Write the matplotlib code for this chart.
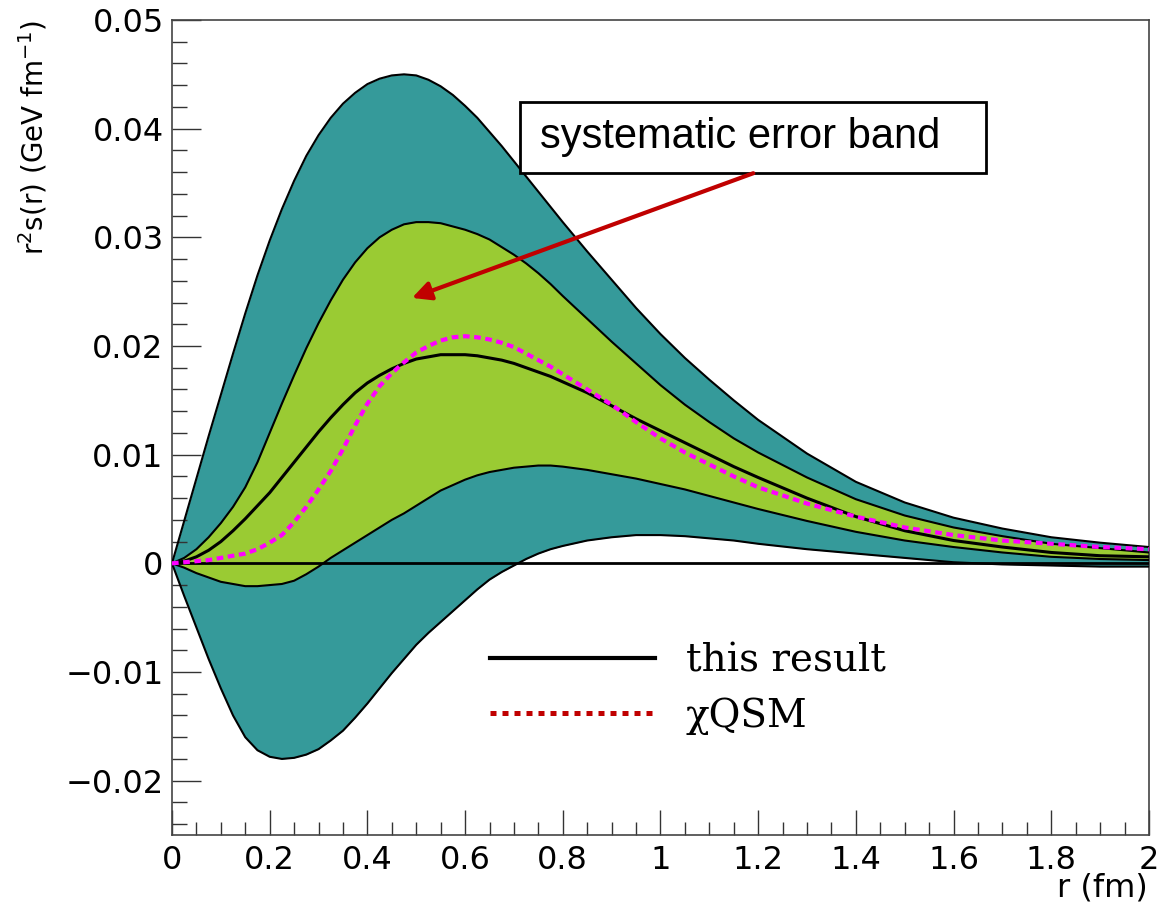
import matplotlib
matplotlib.use('Agg')
import matplotlib.pyplot as plt
from matplotlib.patches import Rectangle
from matplotlib.lines import Line2D
from matplotlib.ticker import FuncFormatter, MultipleLocator
import numpy as np

# r grid (fm) and curves, r^2 s(r) in GeV fm^-1
r = [0, .025, .05, .075, .1, .125, .15, .175, .2, .225, .25, .275, .3, .325, .35, .375, .4,
     .425, .45, .475, .5, .525, .55, .575, .6, .625, .65, .675, .7, .725, .75, .775, .8,
     .85, .9, .95, 1.0, 1.05, 1.1, 1.15, 1.2, 1.3, 1.4, 1.5, 1.6, 1.7, 1.8, 1.9, 2.0]
outer_hi = [0, .0039, .0078, .0117, .0155, .0193, .0230, .0265, .0297, .0326, .0352, .0375,
            .0394, .0410, .0423, .0433, .0441, .0446, .0449, .0450, .0449, .0445, .0439, .0431,
            .0421, .0410, .0397, .0384, .0370, .0356, .0342, .0328, .0314,
            .0287, .0261, .0235, .0211, .0189, .0169, .0150, .0132, .0101, .0075, .0056, .0042,
            .0032, .0024, .0019, .0015]
outer_lo = [0, -.0030, -.0059, -.0088, -.0115, -.0140, -.0160, -.0172, -.0178, -.0180, -.0179,
            -.0176, -.0171, -.0163, -.0154, -.0142, -.0129, -.0115, -.0101, -.0088, -.0075,
            -.0064, -.0054, -.0044, -.0034, -.0024, -.0015, -.0008, -.0002, .0004, .0009,
            .0013, .0016,
            .0021, .0024, .0026, .0026, .0025, .0023, .0021, .0018, .0013, .0009, .0005, .0001,
            -.0001, -.0002, -.0003, -.0003]
inner_hi = [0, .0005, .0013, .0024, .0037, .0052, .0070, .0093, .0120, .0147, .0173, .0198,
            .0221, .0242, .0261, .0277, .0290, .0300, .0307, .0312, .0314, .0314, .0313, .0310,
            .0307, .0303, .0298, .0291, .0284, .0276, .0267, .0257, .0246,
            .0225, .0204, .0184, .0164, .0146, .0130, .0115, .0102, .0079, .0059, .0044, .0033,
            .0025, .0018, .0014, .0010]
inner_lo = [0, -.0004, -.0009, -.0013, -.0017, -.0019, -.0021, -.0021, -.0020, -.0019, -.0016,
            -.0010, -.0003, .0005, .0012, .0019, .0026, .0033, .0040, .0046, .0053, .0060,
            .0067, .0072, .0077, .0081, .0084, .0086, .0088, .0089, .0090, .0090, .0089,
            .0086, .0082, .0078, .0073, .0068, .0062, .0056, .0050, .0039, .0029, .0021, .0015,
            .0010, .0006, .0004, .0003]
this_result = [0, .0002, .0006, .0012, .0020, .0030, .0041, .0053, .0065, .0079, .0093, .0107,
               .0121, .0134, .0146, .0157, .0166, .0173, .0179, .0184, .0188, .0190, .0192,
               .0192, .0192, .0191, .0189, .0187, .0184, .0180, .0176, .0172, .0167,
               .0157, .0145, .0133, .0122, .0111, .0100, .0089, .0079, .0060, .0043, .0030,
               .0021, .0015, .0010, .0007, .0006]
chiqsm = [0, .0001, .0002, .0003, .0005, .0007, .0009, .0013, .0019, .0026, .0038, .0052, .0068,
          .0085, .0105, .0127, .0147, .0163, .0175, .0185, .0194, .0200, .0205, .0208, .0209,
          .0208, .0206, .0203, .0199, .0193, .0187, .0181, .0174,
          .0160, .0146, .0130, .0115, .0102, .0091, .0080, .0070, .0055, .0043, .0033, .0026,
          .0021, .0018, .0015, .0013]

teal = '#359a9a'
green = '#9acb33'
dark_red = '#c00000'

fig = plt.figure(figsize=(11.62, 9.09), dpi=100)
ax = fig.add_axes([0.148, 0.0814, 0.8408, 0.8966])

ax.fill_between(r, outer_lo, outer_hi, color=teal, lw=0, zorder=1)
ax.fill_between(r, inner_lo, inner_hi, color=green, lw=0, zorder=2)
for curve in [outer_hi, outer_lo, inner_hi, inner_lo]:
    ax.plot(r, curve, color='k', lw=1.5, zorder=3, solid_joinstyle='round')
ax.axhline(0, color='k', lw=2, zorder=4)
ax.plot(r, this_result, color='k', lw=2.2, zorder=5, solid_joinstyle='round')
ax.plot(r, chiqsm, color='#ff00ff', lw=3, ls=(0, (1.6, 1.1)), zorder=6)

ax.set_xlim(0, 2)
ax.set_ylim(-0.025, 0.05)
ax.xaxis.set_major_locator(MultipleLocator(0.2))
ax.xaxis.set_minor_locator(MultipleLocator(0.05))
ax.yaxis.set_major_locator(MultipleLocator(0.01))
ax.yaxis.set_minor_locator(MultipleLocator(0.002))


def fmt(v, pos):
    if abs(v) < 1e-9:
        return '0'
    return ('%g' % v).replace('-', '\u2212')


ax.xaxis.set_major_formatter(FuncFormatter(fmt))
ax.yaxis.set_major_formatter(FuncFormatter(fmt))
ax.tick_params(which='both', direction='in', top=False, right=False, color='#333333',
               labelsize=23)
ax.tick_params(axis='y', which='major', length=21, width=1, pad=6)
ax.tick_params(axis='y', which='minor', length=11, width=1)
ax.tick_params(axis='x', which='major', length=18, width=1, pad=7)
ax.tick_params(axis='x', which='minor', length=9.5, width=1)
for s in ax.spines.values():
    s.set_color('#444444')
    s.set_linewidth(1.2)

fig.text(1148 / 1162, 1 - 888 / 909, 'r (fm)', ha='right', va='center', fontsize=23)
fig.text(33 / 1162, 1 - 20 / 909, r'r$^{2}$s(r) (GeV fm$^{-1}$)', rotation=90,
         ha='center', va='top', fontsize=20)

# annotation box and arrow
ax.add_patch(Rectangle((0.356, 0.812), 0.477, 0.087, transform=ax.transAxes,
                       facecolor='white', edgecolor='k', lw=2, zorder=7))
ax.text(0.377, 0.857, 'systematic error band', transform=ax.transAxes, ha='left',
        va='center', fontsize=30, family='Liberation Sans', zorder=8)
ax.annotate('', xy=(0.2457, 0.659), xytext=(0.595, 0.812),
            xycoords='axes fraction', textcoords='axes fraction',
            arrowprops=dict(arrowstyle='-|>', color=dark_red, lw=3, mutation_scale=28,
                            shrinkA=0, shrinkB=0), zorder=8)

# legend drawn by hand
ax.add_line(Line2D([0.325, 0.494], [0.217, 0.217], transform=ax.transAxes,
                   color='k', lw=3, zorder=8))
ax.add_line(Line2D([0.325, 0.494], [0.150, 0.150], transform=ax.transAxes,
                   color=dark_red, lw=3.6, ls=(0, (1.2, 1.2)), zorder=8))
ax.text(0.526, 0.213, 'this result', transform=ax.transAxes, ha='left', va='center',
        fontsize=28, family='DejaVu Serif')
ax.text(0.526, 0.146, '\u03c7QSM', transform=ax.transAxes, ha='left', va='center',
        fontsize=28, family='DejaVu Serif')

fig.savefig('out.png', dpi=100)
